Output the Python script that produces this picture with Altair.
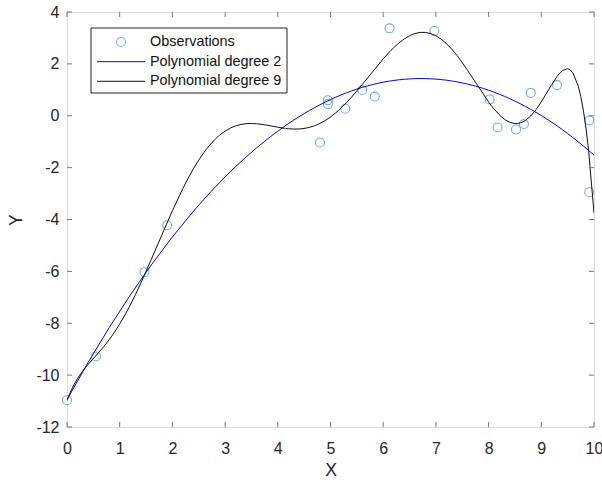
import altair as alt
import pandas as pd

# Observations
obs_x = [0.0, 0.55, 1.47, 1.90, 4.80, 4.95, 4.95, 5.28, 5.60, 5.84,
         6.12, 6.97, 8.02, 8.17, 8.52, 8.67, 8.80, 9.30, 9.91, 9.91]
obs_y = [-10.97, -9.28, -6.03, -4.22, -1.03, 0.60, 0.45, 0.27, 0.99, 0.74,
         3.37, 3.27, 0.63, -0.45, -0.53, -0.32, 0.88, 1.18, -0.18, -2.95]

x_ticks = list(range(0, 11))
y_ticks = list(range(-12, 5, 2))
legend_labels = ["Observations", "Polynomial degree 2", "Polynomial degree 9"]

FONT = "Liberation Sans"
AXIS_COL = "#777777"
LABEL_COL = "#262626"
OBS_COL = "#2f8fd3"
W, H = 527, 415

df = pd.DataFrame({"x": obs_x, "y": obs_y})
xt = pd.DataFrame({"t": x_ticks})
yt = pd.DataFrame({"t": y_ticks})

xscale = alt.Scale(domain=[0, 10], nice=False, zero=False)
yscale = alt.Scale(domain=[-12, 4], nice=False, zero=False)

xaxis = alt.Axis(values=x_ticks, ticks=False, domain=False, grid=False,
                 labelExpr="'' + datum.value", labelFlush=False, labelOverlap=False,
                 labelFont=FONT, labelFontSize=16, labelColor=LABEL_COL,
                 labelPadding=13, title="X", titleFont=FONT, titleFontSize=17.6,
                 titleColor=LABEL_COL, titleFontWeight="normal",
                 titleBaseline="alphabetic", titleY=48)
yaxis = alt.Axis(values=y_ticks, ticks=False, domain=False, grid=False,
                 labelExpr="'' + datum.value", labelFlush=False, labelOverlap=False,
                 labelFont=FONT, labelFontSize=16, labelColor=LABEL_COL,
                 labelPadding=8, title="Y", titleFont=FONT, titleFontSize=17.6,
                 titleColor=LABEL_COL, titleFontWeight="normal",
                 titleBaseline="alphabetic", titleX=-46, titleY=H / 2,
                 titleAngle=270, titleAlign="center")

base = alt.Chart(df)

points = base.mark_point(shape="circle", filled=False, size=80,
                         strokeWidth=1.1, color=OBS_COL).encode(
    x=alt.X("x:Q", scale=xscale, axis=xaxis),
    y=alt.Y("y:Q", scale=yscale, axis=yaxis),
)

fit2 = base.transform_regression("x", "y", method="poly", order=2,
                                 extent=[0, 10]).mark_line(
    color="#0000ff", strokeWidth=1, clip=True).encode(
    x=alt.X("x:Q", scale=xscale), y=alt.Y("y:Q", scale=yscale))

fit9 = base.transform_regression("x", "y", method="poly", order=9,
                                 extent=[0, 10]).mark_line(
    color="#111111", strokeWidth=1, clip=True).encode(
    x=alt.X("x:Q", scale=xscale), y=alt.Y("y:Q", scale=yscale))

# inward tick marks (MATLAB style box)
tb = alt.Chart(xt).mark_rule(color=AXIS_COL, strokeWidth=1).encode(
    x=alt.X("t:Q", scale=xscale), y=alt.value(H), y2=alt.value(H - 5))
tt = alt.Chart(xt).mark_rule(color=AXIS_COL, strokeWidth=1).encode(
    x=alt.X("t:Q", scale=xscale), y=alt.value(0), y2=alt.value(5))
tl = alt.Chart(yt).mark_rule(color=AXIS_COL, strokeWidth=1).encode(
    y=alt.Y("t:Q", scale=yscale), x=alt.value(0), x2=alt.value(5))
tr = alt.Chart(yt).mark_rule(color=AXIS_COL, strokeWidth=1).encode(
    y=alt.Y("t:Q", scale=yscale), x=alt.value(W), x2=alt.value(W - 5))

one = alt.Data(values=[{"a": 1}])
leg_box = alt.Chart(one).mark_rect(fill="white", stroke="#222222",
                                   strokeWidth=1).encode(
    x=alt.value(24), x2=alt.value(220), y=alt.value(16), y2=alt.value(81))
leg_pt = alt.Chart(one).mark_point(shape="circle", filled=False, size=80,
                                   strokeWidth=1.1, color=OBS_COL).encode(
    x=alt.value(54), y=alt.value(30))
leg_l2 = alt.Chart(one).mark_rule(color="#0000ff", strokeWidth=1).encode(
    x=alt.value(30), x2=alt.value(78), y=alt.value(49.7))
leg_l9 = alt.Chart(one).mark_rule(color="#111111", strokeWidth=1).encode(
    x=alt.value(30), x2=alt.value(78), y=alt.value(69.3))
leg_df = pd.DataFrame({"label": legend_labels, "row": [30, 49.7, 69.3]})
leg_txt = alt.Chart(leg_df).mark_text(align="left", baseline="middle",
                                      font=FONT, fontSize=14.4,
                                      color="#111111").encode(
    x=alt.value(83), y=alt.Y("row:Q", scale=None), text="label:N")

chart = alt.layer(points, fit2, fit9, tb, tt, tl, tr,
                  leg_box, leg_pt, leg_l2, leg_l9, leg_txt).properties(
    width=W, height=H,
    autosize=alt.AutoSizeParams(type="none"),
    padding={"left": 67, "top": 12, "right": 8, "bottom": 53},
).configure_view(stroke=AXIS_COL, strokeWidth=1).configure(background="white")

chart.save("out.html", embed_options={"renderer": "svg", "actions": False})
